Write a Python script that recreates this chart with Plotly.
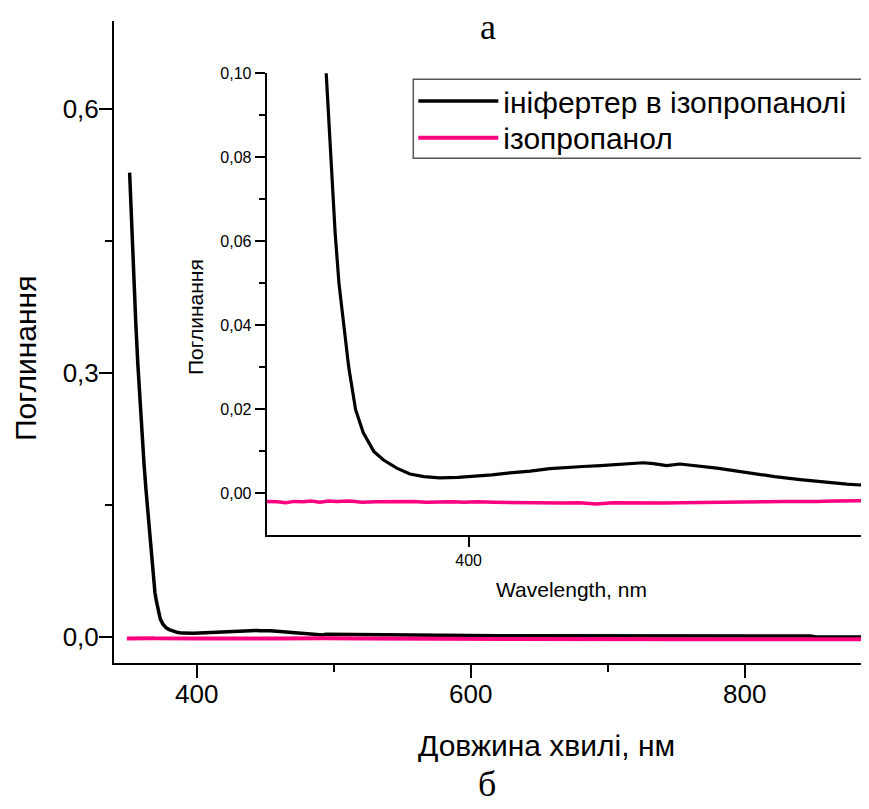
import plotly.graph_objects as go

# ---- data (wavelength in nm, absorbance) ----
wl_initer = [351.0, 352.5, 354.0, 355.5, 357.0, 358.5, 360.0, 361.5, 363.0, 364.5,
             365.5, 366.5, 367.5, 368.6, 369.5, 370.6, 371.8, 373.4, 375.2, 377.7,
             379.9, 383.1, 386.2, 389.5, 393.2, 397.5, 401.9, 405.5, 409.7, 414.5,
             419.1, 423.0, 426.9, 431.0, 435.0, 438.7, 441.1, 443.5, 446.6, 449.7,
             453.5, 458.4, 462.0, 466.2, 472.0, 478.0, 482.0, 485.8, 489.0, 492.1,
             494.2, 510.0, 536.0, 560.0, 585.0, 620.0, 660.0, 700.0, 740.0, 780.0,
             820.0, 848.0, 852.0, 880.0, 892.0]
abs_initer = [0.528, 0.466, 0.409, 0.357, 0.310, 0.268, 0.231, 0.197, 0.166, 0.138,
              0.119, 0.100, 0.082, 0.062, 0.050, 0.040, 0.030, 0.020, 0.0145, 0.0100,
              0.0080, 0.0060, 0.0046, 0.0040, 0.0037, 0.0038, 0.0041, 0.0044, 0.0049, 0.0053,
              0.0059, 0.0062, 0.0064, 0.0066, 0.0069, 0.0071, 0.0073, 0.0071, 0.0066, 0.0070,
              0.0066, 0.0060, 0.0055, 0.0048, 0.0040, 0.0033, 0.0029, 0.0024, 0.0022, 0.0020,
              0.0026, 0.0023, 0.0019, 0.0014, 0.0011, 0.0010, 0.0009, 0.0008, 0.0009, 0.0008,
              0.0007, 0.0008, -0.0003, -0.0004, -0.0004]

wl_iso = [349, 352, 355, 357, 359, 361, 363, 365, 367, 369, 372, 375, 378, 381, 384,
          387, 390, 393, 396, 399, 402, 406, 410, 414, 418, 422, 426, 430, 434, 438,
          442, 446, 450, 454, 458, 462, 466, 470, 474, 478, 482, 486, 490, 494,
          520, 560, 600, 650, 700, 750, 800, 850, 892]
abs_iso = [-0.0021, -0.0019, -0.0020, -0.0022, -0.0019, -0.0020, -0.0018, -0.0021, -0.0018,
           -0.0019, -0.0018, -0.0021, -0.0020, -0.0019, -0.0020, -0.0019, -0.0021, -0.0020,
           -0.0020, -0.0021, -0.0020, -0.0021, -0.0022, -0.0021, -0.0022, -0.0023, -0.0022,
           -0.0025, -0.0022, -0.0023, -0.0023, -0.0023, -0.0022, -0.0022, -0.0021, -0.0020,
           -0.0021, -0.0020, -0.0019, -0.0020, -0.0019, -0.0018, -0.0017, -0.0017,
           -0.0022, -0.0025, -0.0028, -0.0030, -0.0030, -0.0031, -0.0030, -0.0031, -0.0030]

name_initer = "ініфертер в ізопропанолі"
name_iso = "ізопропанол"

BLACK = "black"
PINK = "#FF0080"
SANS = "Liberation Sans, Arial, sans-serif"
SERIF = "Liberation Serif, Times New Roman, serif"

# page body has an 8px margin; figure fills the rest of the 869x809 window
OFF = 8
W, H = 869 - OFF, 809 - OFF


def fx(p):
    return (p - OFF) / W


def fy(p):
    return 1 - (p - OFF) / H


fig = go.Figure()
fig.add_trace(go.Scatter(x=wl_initer, y=abs_initer, mode="lines", name=name_initer,
                         line=dict(color=BLACK, width=3.5), xaxis="x", yaxis="y",
                         legend="legend"))
fig.add_trace(go.Scatter(x=wl_iso, y=abs_iso, mode="lines", name=name_iso,
                         line=dict(color=PINK, width=4), xaxis="x", yaxis="y",
                         legend="legend2"))
fig.add_trace(go.Scatter(x=wl_initer, y=abs_initer, mode="lines", showlegend=False,
                         line=dict(color=BLACK, width=3.2), xaxis="x2", yaxis="y2"))
fig.add_trace(go.Scatter(x=wl_iso, y=abs_iso, mode="lines", showlegend=False,
                         line=dict(color=PINK, width=3.5), xaxis="x2", yaxis="y2"))

common = dict(showline=True, linecolor=BLACK, linewidth=2, ticks="outside",
              tickcolor=BLACK, tickwidth=2, showgrid=False, zeroline=False,
              automargin=False)

legend_common = dict(x=fx(413.3), xanchor="left", yanchor="middle",
                     bgcolor="rgba(0,0,0,0)", borderwidth=0,
                     font=dict(family=SANS, size=30, color=BLACK),
                     itemwidth=80, tracegroupgap=0)

fig.update_layout(
    width=W, height=H,
    margin=dict(l=0, r=0, t=0, b=0, autoexpand=False),
    paper_bgcolor="white", plot_bgcolor="rgba(0,0,0,0)",
    separators=", ",
    showlegend=True,
    xaxis=dict(**common, domain=[fx(114), 1.0], range=[339.6, 890.7], anchor="y",
               tick0=0, dtick=200, ticklen=13, ticklabelstandoff=-6,
               minor=dict(dtick=100, ticklen=7, ticks="outside", tickcolor=BLACK, tickwidth=2),
               tickfont=dict(family=SANS, size=26, color=BLACK)),
    yaxis=dict(**common, domain=[fy(663), fy(20.7)], range=[-0.03, 0.7008], anchor="x",
               tick0=0, dtick=0.3, tickformat=".1f", ticklen=13, ticklabelstandoff=-5,
               minor=dict(dtick=0.15, ticklen=7, ticks="outside", tickcolor=BLACK, tickwidth=2),
               tickfont=dict(family=SANS, size=26, color=BLACK)),
    xaxis2=dict(**common, domain=[fx(266.7), 1.0], range=[352.5, 494.2], anchor="y2",
                tick0=0, dtick=100, ticklen=10, ticklabelstandoff=0,
                tickfont=dict(family=SANS, size=16, color=BLACK)),
    yaxis2=dict(**common, domain=[fy(535), fy(73.3)], range=[-0.0099, 0.10], anchor="x2",
                tick0=0, dtick=0.02, tickformat=".2f", ticklen=10, ticklabelstandoff=0,
                minor=dict(dtick=0.01, ticklen=6, ticks="outside", tickcolor=BLACK, tickwidth=2),
                tickfont=dict(family=SANS, size=16, color=BLACK)),
    legend=dict(**legend_common, y=fy(101)),
    legend2=dict(**legend_common, y=fy(137.7)),
    shapes=[
        dict(type="rect", xref="paper", yref="paper", layer="below",
             x0=fx(413.3), x1=fx(868), y0=fy(158.3), y1=fy(79.3),
             line=dict(color="#555555", width=1.5), fillcolor="white"),
    ],
    annotations=[
        dict(text="а", x=fx(488), y=fy(27), xref="paper", yref="paper", showarrow=False,
             xanchor="center", yanchor="middle",
             font=dict(family=SERIF, size=36, color=BLACK)),
        dict(text="б", x=fx(487), y=fy(784), xref="paper", yref="paper", showarrow=False,
             xanchor="center", yanchor="middle",
             font=dict(family=SERIF, size=36, color=BLACK)),
        dict(text="Довжина хвилі, нм", x=fx(546), y=fy(745), xref="paper", yref="paper",
             showarrow=False, xanchor="center", yanchor="middle",
             font=dict(family=SANS, size=30, color=BLACK)),
        dict(text="Поглинання", x=fx(26), y=fy(359), xref="paper", yref="paper",
             showarrow=False, textangle=-90, xanchor="center", yanchor="middle",
             font=dict(family=SANS, size=30, color=BLACK)),
        dict(text="Wavelength, nm", x=fx(571), y=fy(589), xref="paper", yref="paper",
             showarrow=False, xanchor="center", yanchor="middle",
             font=dict(family=SANS, size=21, color=BLACK)),
        dict(text="Поглинання", x=fx(195), y=fy(317), xref="paper", yref="paper",
             showarrow=False, textangle=-90, xanchor="center", yanchor="middle",
             font=dict(family=SANS, size=21, color=BLACK)),
    ],
)

fig.write_html("out.html")
